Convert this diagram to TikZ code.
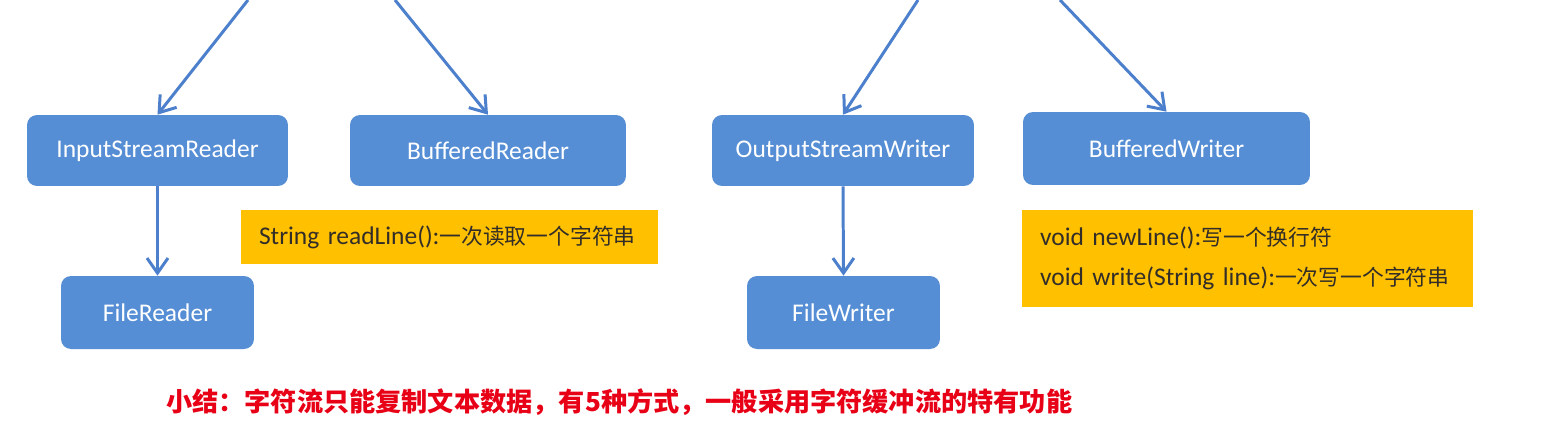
\documentclass[tikz,border=0pt]{standalone}
\usepackage{fontspec}
\setmainfont{Carlito}
\newfontfamily\cjk{Noto Sans CJK SC}
\usetikzlibrary{arrows.meta}
\definecolor{boxblue}{RGB}{85,142,213}
\definecolor{arrowblue}{RGB}{76,128,204}
\definecolor{noteyellow}{RGB}{255,192,0}
\definecolor{notetext}{RGB}{50,45,40}
\definecolor{sumred}{RGB}{232,0,22}
\newcommand{\zh}[1]{{\cjk\fontsize{12.4}{22.5}\selectfont #1}}

\begin{document}
\begin{tikzpicture}[x=0.02cm,y=-0.02cm,
  cls/.style={draw=none,fill=boxblue,rounded corners=0.2cm,text=white,
    font=\fontsize{14.5}{17}\selectfont,minimum height=1.42cm},
  note/.style={fill=noteyellow,text=notetext,align=left,inner xsep=0.36cm,
    font=\fontsize{14.5}{22.5}\selectfont},
  link/.style={arrowblue,line width=1.7pt,-{Straight Barb[length=0.3cm,width=0.42cm]}}]
  \useasboundingbox[fill=white] (0,0) rectangle (1568,440);
  % reader side
  \node[cls,minimum width=5.22cm] (isr) at (157.5,150.5) {InputStreamReader};
  \node[cls,minimum width=5.52cm] (br) at (488,150.5) {BufferedReader};
  \node[cls,minimum width=3.86cm,minimum height=1.46cm] (fr) at (157.5,312.5) {FileReader};
  \node[note,minimum height=1.08cm,text width=7.62cm] (rnote) at (449.5,237)
    {String readLine():\zh{一次读取一个字符串}};
  % writer side
  \node[cls,minimum width=5.24cm] (osw) at (843,150.5) {OutputStreamWriter};
  \node[cls,minimum width=5.74cm,minimum height=1.46cm] (bw) at (1166.5,148.5) {BufferedWriter};
  \node[cls,minimum width=3.86cm,minimum height=1.46cm] (fw) at (843.5,312.5) {FileWriter};
  \node[note,minimum height=1.94cm,text width=8.30cm] (wnote) at (1247.5,258.5)
    {void newLine():\zh{写一个换行符}\\
     void write(String line):\zh{一次写一个字符串}};
  % arrows coming from above
  \coordinate (r1) at (248,0);
  \coordinate (r2) at (395,0);
  \coordinate (w1) at (918,0);
  \coordinate (w2) at (1060,0);
  \draw[link] (r1) -- (isr.north);
  \draw[link] (r2) -- (br.north);
  \draw[link] (w1) -- (osw.north);
  \draw[link] (w2) -- (bw.north);
  \draw[link] (isr.south) -- (fr.north);
  \draw[link] (osw.south) -- (fw.north);
  % summary
  \node[anchor=west,text=sumred,font=\cjk\bfseries\fontsize{14.9}{18}\selectfont] (sum) at (160,402)
    {小结：字符流只能复制文本数据，有5种方式，一般采用字符缓冲流的特有功能};
\end{tikzpicture}
\end{document}
